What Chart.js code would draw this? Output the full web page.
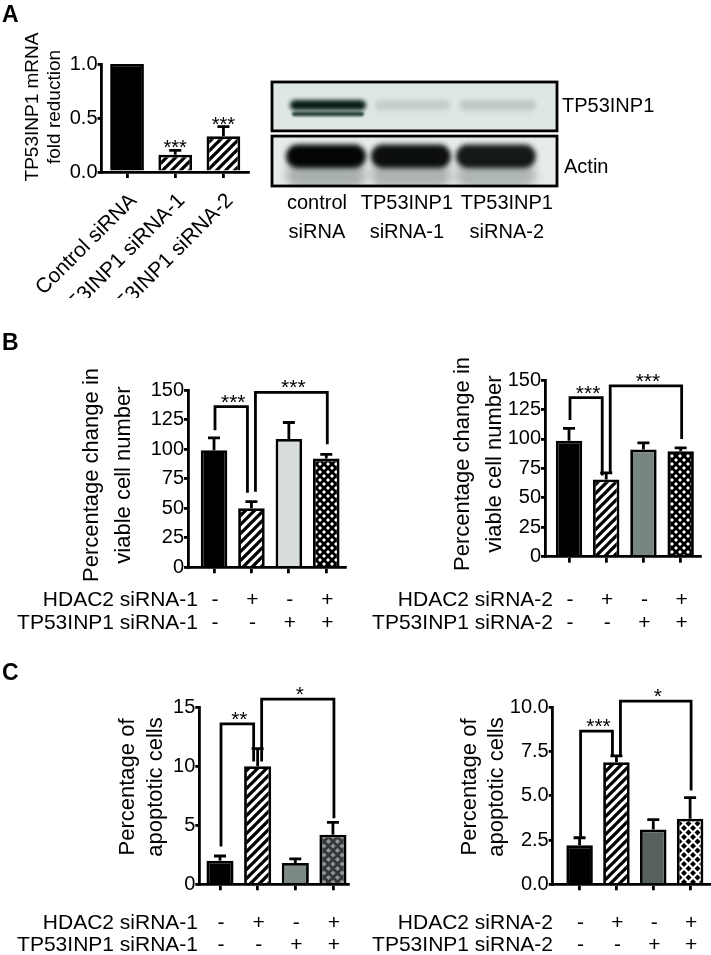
<!DOCTYPE html>
<html>
<head>
<meta charset="utf-8">
<script src="https://cdn.jsdelivr.net/npm/chart.js@4.4.1/dist/chart.umd.min.js"></script>
<style>
  html, body { margin: 0; background: #fff; }
  #fig { position: relative; width: 711px; height: 955px; }
  #fig canvas { position: absolute; left: 0; top: 0; }
</style>
</head>
<body>
<div id="fig">
  <canvas id="chartA" width="711" height="955"></canvas>
  <canvas id="blot" width="711" height="955"></canvas>
  <canvas id="chartB1" width="711" height="955"></canvas>
  <canvas id="chartB2" width="711" height="955"></canvas>
  <canvas id="chartC1" width="711" height="955"></canvas>
  <canvas id="chartC2" width="711" height="955"></canvas>
</div>
<script>
const W = 711, H = 955;
const FONT = '"Liberation Sans", Arial, Helvetica, sans-serif';
const LW = 2.8;
Chart.defaults.font.family = FONT;
Chart.defaults.color = '#000';

// ---- data ----
// panel A, qPCR
const groupsA = ['Control siRNA', 'TP53INP1 siRNA-1', 'TP53INP1 siRNA-2'];
const mrnaA = [1.0, 0.16, 0.33];
const mrnaErrA = [0, 0.04, 0.09];
const starsA = ['', '***', '***'];

// panel A, western blot (relative band strength)
const blotLanes = [['control', 'siRNA'], ['TP53INP1', 'siRNA-1'], ['TP53INP1', 'siRNA-2']];
const tp53Band = [1.0, 0.12, 0.15];
const actinBand = [1.0, 0.96, 0.92];

// B / C treatment rows
const hdacSigns = ['-', '+', '-', '+'];
const tp53Signs = ['-', '-', '+', '+'];

// panel B, viable cells (%)
const viable1 = [99, 50, 108.5, 92];
const viableErr1 = [10.5, 5.5, 14, 3.5];
const viable2 = [98.5, 65.5, 91, 89.5];
const viableErr2 = [10.5, 5.6, 5.6, 2.8];

// panel C, apoptotic cells (%)
const apop1 = [2.0, 10.0, 1.8, 4.2];
const apopErr1 = [0.4, 1.5, 0.35, 1.05];
const apop2 = [2.2, 6.9, 3.1, 3.7];
const apopErr2 = [0.43, 0.36, 0.55, 1.2];

// significance brackets: [from, to, left leg, top, right leg, label]
const bracketsB1 = [[0, 1, 116, 136, 63, '***'], [1, 3, 64, 148, 104, '***']];
const bracketsB2 = [[0, 1, 116, 135, 69, '***'], [1, 3, 71, 145, 100, '***']];
const bracketsC1 = [[0, 1, 3.2, 13.6, 10.4, '**'], [1, 3, 10.4, 15.7, 5.6, '*']];
const bracketsC2 = [[0, 1, 2.6, 8.65, 7.2, '***'], [1, 3, 7.2, 10.35, 5.3, '*']];

// ---- fill patterns ----
function hatch(bg, fg, size, lw) {
  const c = document.createElement('canvas');
  c.width = c.height = size;
  const g = c.getContext('2d');
  g.fillStyle = bg; g.fillRect(0, 0, size, size);
  g.strokeStyle = fg; g.lineWidth = lw;
  g.beginPath();
  g.moveTo(0, size); g.lineTo(size, 0);
  g.moveTo(-size / 2, size / 2); g.lineTo(size / 2, -size / 2);
  g.moveTo(size / 2, size * 1.5); g.lineTo(size * 1.5, size / 2);
  g.stroke();
  return g.createPattern(c, 'repeat');
}
function diamonds(bg, fg, size, r) {
  const c = document.createElement('canvas');
  c.width = c.height = size;
  const g = c.getContext('2d');
  g.fillStyle = bg; g.fillRect(0, 0, size, size);
  g.fillStyle = fg;
  [[0, 0], [size, 0], [0, size], [size, size], [size / 2, size / 2]].forEach(([x, y]) => {
    g.beginPath();
    g.moveTo(x, y - r); g.lineTo(x + r, y); g.lineTo(x, y + r); g.lineTo(x - r, y);
    g.closePath(); g.fill();
  });
  return g.createPattern(c, 'repeat');
}
const stripes = hatch('#fff', '#000', 9, 3.3);

// ---- drawing of error bars, brackets, titles and row labels ----
function decor(cfg) {
  return {
    id: 'decor',
    afterDraw(chart) {
      const ctx = chart.ctx, xs = chart.scales.x, ys = chart.scales.y;
      ctx.save();
      ctx.fillStyle = '#000';
      ctx.strokeStyle = '#000';
      ctx.lineWidth = LW;
      ctx.lineCap = 'butt';

      // error bars (upper only)
      chart.getDatasetMeta(0).data.forEach((bar, i) => {
        const e = cfg.errors[i];
        if (!e) return;
        const top = ys.getPixelForValue(cfg.values[i] + e);
        ctx.beginPath();
        ctx.moveTo(bar.x, bar.y); ctx.lineTo(bar.x, top);
        ctx.moveTo(bar.x - 6, top); ctx.lineTo(bar.x + 6, top);
        ctx.stroke();
        if (cfg.stars && cfg.stars[i]) {
          ctx.font = `20px ${FONT}`;
          ctx.textAlign = 'center';
          ctx.textBaseline = 'alphabetic';
          ctx.fillText(cfg.stars[i], bar.x, top + 4);
        }
      });

      (cfg.brackets || []).forEach(([a, b, ya, yt, yb, label]) => {
        const xa = xs.getPixelForValue(a) + (a === 1 ? 4 : 1);
        const xb = xs.getPixelForValue(b) - (b === 1 ? 4 : -1);
        const pt = ys.getPixelForValue(yt);
        ctx.beginPath();
        ctx.moveTo(xa, ys.getPixelForValue(ya));
        ctx.lineTo(xa, pt); ctx.lineTo(xb, pt);
        ctx.lineTo(xb, ys.getPixelForValue(yb));
        ctx.stroke();
        ctx.font = `21px ${FONT}`;
        ctx.textAlign = 'center';
        ctx.textBaseline = 'alphabetic';
        ctx.fillText(label, (xa + xb) / 2 + 2, pt + 2);
      });

      // rotated category names (panel A), cut off by the panel below as in the figure
      if (cfg.xLabels) {
        ctx.save();
        ctx.beginPath();
        ctx.rect(0, 0, W, 298);
        ctx.clip();
        ctx.font = `21px ${FONT}`;
        ctx.textAlign = 'right';
        ctx.textBaseline = 'top';
        cfg.xLabels.forEach((s, i) => {
          ctx.save();
          ctx.translate(xs.getPixelForValue(i) - 1, chart.chartArea.bottom + 18);
          ctx.rotate(-Math.PI / 4);
          ctx.fillText(s, 0, 0);
          ctx.restore();
        });
        ctx.restore();
      }

      const t = cfg.yTitle;
      ctx.font = `${t.size}px ${FONT}`;
      ctx.textAlign = 'center';
      ctx.textBaseline = 'middle';
      t.lines.forEach((s, k) => {
        ctx.save();
        ctx.translate(t.x[k], t.y);
        ctx.rotate(-Math.PI / 2);
        ctx.fillText(s, 0, 0);
        ctx.restore();
      });

      if (cfg.rows) {
        ctx.font = `21px ${FONT}`;
        ctx.textBaseline = 'middle';
        cfg.rows.forEach(([name, signs], r) => {
          const yy = cfg.rowY[r];
          ctx.textAlign = 'right';
          ctx.fillText(name, cfg.rowX, yy);
          ctx.textAlign = 'center';
          signs.forEach((s, i) => ctx.fillText(s, xs.getPixelForValue(i) + 1, yy));
        });
      }

      if (cfg.letter) {
        ctx.font = `bold 23px ${FONT}`;
        ctx.textAlign = 'left';
        ctx.textBaseline = 'alphabetic';
        ctx.fillText(cfg.letter[0], 2, cfg.letter[1]);
      }
      ctx.restore();
    }
  };
}

// box = page position of the axes: x of y-axis, right end of x-axis, top and bottom of y-axis
function barChart(id, cfg) {
  const YW = 70, XH = 10, box = cfg.box;
  return new Chart(document.getElementById(id), {
    type: 'bar',
    data: {
      datasets: [{
        data: cfg.values.map((v, i) => ({ x: i, y: v })),
        backgroundColor: cfg.colors,
        borderColor: '#000',
        borderWidth: LW,
        borderSkipped: 'start',
        categoryPercentage: 1,
        barPercentage: cfg.barPct
      }]
    },
    options: {
      responsive: false,
      animation: false,
      events: [],
      layout: { padding: { left: box[0] - YW, right: W - box[1], top: box[2], bottom: H - box[3] - XH } },
      plugins: { legend: { display: false }, tooltip: { enabled: false } },
      scales: {
        x: {
          type: 'linear', min: cfg.xRange[0], max: cfg.xRange[1], offset: false,
          afterBuildTicks: s => { s.ticks = cfg.values.map((v, i) => ({ value: i })); },
          afterFit: s => { s.height = XH; },
          grid: { offset: false, drawOnChartArea: false, color: '#000', lineWidth: LW, tickLength: 6 },
          border: { color: '#000', width: LW },
          ticks: { display: false }
        },
        y: {
          min: 0, max: cfg.yMax,
          afterFit: s => { s.width = YW; },
          ticks: { stepSize: cfg.step, font: { size: 20 }, color: '#000', padding: 0,
                   callback: v => v.toFixed(cfg.decimals) },
          grid: { drawOnChartArea: false, color: '#000', lineWidth: LW, tickLength: 4 },
          border: { color: '#000', width: LW }
        }
      }
    },
    plugins: [decor(cfg)]
  });
}

// Panel A bar chart
barChart('chartA', {
  values: mrnaA, errors: mrnaErrA, stars: starsA, xLabels: groupsA,
  colors: ['#000', stripes, stripes],
  box: [101.5, 248, 64, 172], xRange: [-0.53, 2.51], barPct: 0.7,
  yMax: 1, step: 0.5, decimals: 1,
  yTitle: { lines: ['TP53INP1 mRNA', 'fold reduction'], x: [33, 55], y: 107, size: 19 },
  letter: ['A', 22]
});

// Panel A western blot
const blotPlugin = {
  id: 'blot',
  afterDraw(chart) {
    const ctx = chart.ctx, a = chart.chartArea, xs = chart.scales.x;
    const h = a.bottom - a.top;
    const frames = [[a.top, a.top + 0.47 * h, '#dfe7e4'], [a.top + 0.52 * h, a.bottom, '#e7ebea']];
    const bw = 80;
    const band = (cx, w, y0, y1, color, blur) => {
      ctx.save();
      ctx.filter = `blur(${blur}px)`;
      ctx.fillStyle = color;
      ctx.beginPath();
      ctx.roundRect(cx - w / 2, y0, w, y1 - y0, (y1 - y0) / 2);
      ctx.fill();
      ctx.restore();
    };
    ctx.save();
    frames.forEach(([t, b, bg], k) => {
      ctx.save();
      ctx.fillStyle = bg;
      ctx.fillRect(a.left, t, a.right - a.left, b - t);
      ctx.beginPath();
      ctx.rect(a.left, t, a.right - a.left, b - t);
      ctx.clip();
      const fh = b - t;
      blotLanes.forEach((lane, i) => {
        const cx = xs.getPixelForValue(i);
        if (k === 0) {
          const s = tp53Band[i];
          band(cx + 2, bw - 4, t + 0.37 * fh, t + 0.58 * fh, `rgba(8,30,22,${s})`, 2);
          band(cx + 2, bw - 8, t + 0.61 * fh, t + 0.70 * fh, `rgba(12,40,32,${0.85 * s * s})`, 1);
        } else {
          const s = actinBand[i];
          band(cx, bw, t + 0.50 * fh, t + 1.05 * fh, `rgba(110,120,120,${0.5 * s})`, 5);
          band(cx, bw, t + 0.17 * fh, t + 0.64 * fh, `rgba(4,6,6,${s})`, 2.5);
        }
      });
      ctx.restore();
      ctx.lineWidth = LW;
      ctx.strokeStyle = '#000';
      ctx.strokeRect(a.left, t, a.right - a.left, b - t);
    });

    ctx.fillStyle = '#000';
    ctx.font = `20px ${FONT}`;
    ctx.textBaseline = 'middle';
    ctx.textAlign = 'left';
    ctx.fillText('TP53INP1', a.right + 5, (frames[0][0] + frames[0][1]) / 2);
    ctx.fillText('Actin', a.right + 7, (frames[1][0] + frames[1][1]) / 2 + 6);
    ctx.textAlign = 'center';
    const shift = [-9, -4, 11];
    blotLanes.forEach((lines, i) => {
      const cx = xs.getPixelForValue(i) + shift[i];
      ctx.fillText(lines[0], cx, a.bottom + 17);
      ctx.fillText(lines[1], cx, a.bottom + 46);
    });
    ctx.restore();
  }
};
new Chart(document.getElementById('blot'), {
  type: 'bar',
  data: { datasets: [{ data: tp53Band.map((v, i) => ({ x: i, y: v })), backgroundColor: 'rgba(0,0,0,0)' }] },
  options: {
    responsive: false, animation: false, events: [],
    layout: { padding: { left: 272, top: 82, right: W - 557, bottom: H - 186 } },
    plugins: { legend: { display: false }, tooltip: { enabled: false } },
    scales: {
      x: { type: 'linear', min: -0.635, max: 2.72, offset: false, display: false },
      y: { min: 0, max: 1, display: false }
    }
  },
  plugins: [blotPlugin]
});

// Panel B
barChart('chartB1', {
  values: viable1, errors: viableErr1, brackets: bracketsB1,
  colors: ['#000', stripes, '#d6dddc', diamonds('#000', '#fff', 8, 2)],
  box: [188, 345, 390, 567.3], xRange: [-0.695, 3.5], barPct: 0.71,
  yMax: 150, step: 25, decimals: 0,
  yTitle: { lines: ['Percentage change in', 'viable cell number'], x: [92, 124], y: 475, size: 22 },
  rows: [['HDAC2 siRNA-1', hdacSigns], ['TP53INP1 siRNA-1', tp53Signs]], rowX: 198, rowY: [600, 623],
  letter: ['B', 350]
});
barChart('chartB2', {
  values: viable2, errors: viableErr2, brackets: bracketsB2,
  colors: ['#000', stripes, '#778583', diamonds('#000', '#fff', 8, 2)],
  box: [545, 700, 380, 556.7], xRange: [-0.645, 3.52], barPct: 0.71,
  yMax: 150, step: 25, decimals: 0,
  yTitle: { lines: ['Percentage change in', 'viable cell number'], x: [463, 495], y: 464, size: 22 },
  rows: [['HDAC2 siRNA-2', hdacSigns], ['TP53INP1 siRNA-2', tp53Signs]], rowX: 553, rowY: [600, 623]
});

// Panel C
barChart('chartC1', {
  values: apop1, errors: apopErr1, brackets: bracketsC1,
  colors: ['#000', stripes, '#7b8987', diamonds('#34383a', '#8d9494', 9, 2.6)],
  box: [199.3, 348, 707.3, 884.3], xRange: [-0.55, 3.4], barPct: 0.72,
  yMax: 15, step: 5, decimals: 0,
  yTitle: { lines: ['Percentage of', 'apoptotic cells'], x: [128, 156], y: 787, size: 22 },
  rows: [['HDAC2 siRNA-1', hdacSigns], ['TP53INP1 siRNA-1', tp53Signs]], rowX: 198, rowY: [923, 945],
  letter: ['C', 680]
});
barChart('chartC2', {
  values: apop2, errors: apopErr2, brackets: bracketsC2,
  colors: ['#000', stripes, '#56605f', diamonds('#fff', '#000', 9, 3)],
  box: [552.7, 710, 707.3, 884.3], xRange: [-0.73, 3.54], barPct: 0.72,
  yMax: 10, step: 2.5, decimals: 1,
  yTitle: { lines: ['Percentage of', 'apoptotic cells'], x: [470, 497], y: 787, size: 22 },
  rows: [['HDAC2 siRNA-2', hdacSigns], ['TP53INP1 siRNA-2', tp53Signs]], rowX: 553, rowY: [923, 945]
});
</script>
</body>
</html>
